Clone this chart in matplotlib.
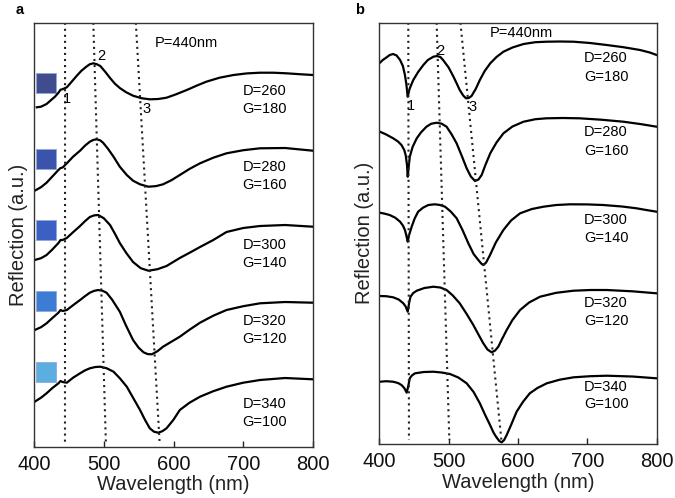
import matplotlib
matplotlib.use("Agg")
import matplotlib.pyplot as plt
from matplotlib.patches import Rectangle

plt.rcParams['font.family'] = ['Liberation Sans', 'DejaVu Sans']

# panel a: wavelength (nm) and offset reflection (a.u.)
a_wl = [
    [404, 410, 418, 425, 430, 435, 438, 441, 447, 454, 461, 468, 475, 480, 485, 490, 495, 502, 509, 516, 523, 532, 542, 554, 566, 578, 590, 604, 619, 633, 647, 666, 686, 705, 724, 743, 762, 781, 800],
    [401, 410, 418, 426, 435, 438, 441, 447, 456, 466, 473, 480, 485, 490, 495, 499, 506, 514, 523, 533, 542, 552, 564, 575, 585, 597, 609, 623, 638, 657, 676, 700, 724, 760, 800],
    [401, 410, 418, 426, 435, 438, 441, 447, 456, 466, 473, 480, 486, 492, 500, 509, 516, 523, 532, 542, 553, 564, 577, 590, 609, 625, 638, 657, 676, 700, 724, 760, 800],
    [401, 410, 418, 426, 435, 438, 441, 447, 456, 466, 473, 480, 486, 492, 498, 504, 512, 523, 532, 542, 550, 557, 563, 569, 577, 585, 597, 609, 623, 638, 657, 676, 700, 724, 760, 800],
    [401, 410, 418, 426, 435, 438, 441, 447, 456, 466, 473, 480, 488, 495, 504, 514, 523, 533, 542, 552, 559, 566, 572, 578, 584, 590, 600, 609, 623, 638, 657, 676, 700, 724, 760, 800],
]
a_refl = [
    [339.4, 340, 342.7, 347, 350, 354, 357, 357.5, 359.4, 365, 370.7, 376, 380, 382.5, 383.4, 382.5, 380.7, 375, 368.7, 363, 358.7, 354.5, 351, 348.5, 347.4, 347.7, 349, 352.5, 356.7, 361, 365, 369, 371.7, 373.3, 374, 374, 373.4, 372.5, 371.7],
    [256, 259.5, 264, 270, 276.7, 278.7, 279.2, 283.4, 290, 296, 301, 305, 306.8, 307.4, 306.3, 304, 298, 290, 280, 271.7, 266, 262.4, 260, 260.6, 262.4, 266.5, 271.7, 277.8, 283.4, 289, 293.4, 296.5, 298.4, 298.7, 296],
    [186.7, 188.5, 191.7, 197, 203.7, 206.7, 206.7, 208.7, 214.5, 220.7, 225.5, 229.7, 231.3, 231.7, 228.5, 221.7, 213, 203.7, 194, 184.7, 178.5, 176, 177.5, 180.7, 188.7, 194.7, 199.7, 206.7, 214.7, 218.7, 220.7, 221.7, 220],
    [116.7, 119.5, 123.4, 128.5, 134, 136.7, 135.7, 136.7, 141.5, 146.7, 150.5, 154, 155.8, 156.7, 156, 154, 147, 135, 121, 106.7, 99, 94.4, 92.6, 92.4, 95.5, 100, 105, 110, 117, 124, 131, 136.7, 140.5, 143.4, 144.7, 144],
    [45, 49, 53.4, 58.5, 63.4, 65.7, 64.7, 64, 69, 73.4, 76.3, 78.4, 79.7, 80, 78.5, 75, 68.5, 60, 49, 36.7, 27, 18.4, 15, 14, 15.5, 18.4, 27, 36.7, 44, 50, 55.5, 60, 64, 66.7, 68.7, 67.4],
]

# panel b
b_wl = [
    [401, 405, 410.6, 415, 420, 425, 430, 434, 437, 439, 441, 442.5, 444, 449, 456, 463.5, 470, 478, 483, 488, 492, 500, 507, 512, 516, 521, 525, 529, 533, 539, 545, 552, 560, 569, 579, 592, 608, 625, 641, 660, 680, 704, 728, 752, 776, 790, 800],
    [401, 410, 420, 427, 432, 436, 438, 440, 441, 442.5, 444, 448, 454, 460, 468, 475, 483, 490, 497, 504, 511.5, 519, 526, 532, 538, 543, 547.6, 553, 560, 569, 579, 592, 608, 625, 641, 665, 689, 720, 752, 776, 800],
    [401, 408, 415, 423, 430, 434, 437, 439.5, 441, 443, 446.7, 451, 456, 463, 470.7, 480, 487, 494.8, 503, 511.6, 520, 528.4, 536, 542.8, 547, 550, 554, 559.7, 568, 578.9, 590, 603, 620, 636.6, 655, 675, 700, 723, 750, 771, 785, 800],
    [401, 410, 420, 428, 434.7, 438, 441, 443, 445, 449, 454, 465, 478, 488, 497, 506, 516, 526, 535.6, 543, 550, 556, 562, 567, 571.6, 577, 583.7, 592, 603, 616, 631.8, 655, 680, 704, 728, 765, 800],
    [401, 410, 420, 427, 432, 436, 439.5, 441.5, 444, 447, 451.5, 464, 478, 490, 502, 514, 526, 536, 545, 552, 559.7, 565, 569, 573, 576.5, 580, 583.7, 590, 598, 607, 617, 628, 641.5, 660, 680, 704, 728, 765, 800],
]
b_refl = [
    [381.3, 384, 386.7, 389, 390, 388.5, 384, 378, 369, 360, 347.3, 352, 355.7, 364, 372, 379, 384, 387.3, 388, 387, 384, 376.5, 367.3, 360, 354, 348.5, 345.7, 346, 348, 355, 364, 373, 380.7, 387, 392.3, 396.5, 400, 401.8, 402.3, 402.5, 402.3, 401, 399, 396.8, 394, 391.5, 389],
    [312.3, 309.5, 305.7, 302.5, 299, 294, 289, 279, 267.3, 278, 287.3, 297, 305.7, 311.5, 317.3, 320.3, 321.3, 320.3, 317.3, 310, 300.7, 288, 275.7, 267.5, 263, 264.5, 269, 279, 290.7, 301.5, 310.7, 317.5, 322.3, 324.8, 325.7, 326, 325.7, 324.3, 322.3, 320, 317.3],
    [231.3, 230.3, 229, 226.3, 222.3, 218.5, 214, 207, 202.3, 209, 217.3, 225.5, 232.3, 236.3, 239, 239.7, 239.1, 237.3, 232.5, 225.7, 214, 200.7, 190, 184, 180.5, 179, 181.5, 189, 201.5, 214, 223.5, 230.7, 235, 237.3, 239, 239.7, 239.6, 239, 237.5, 235.7, 234, 232.3],
    [148, 147.8, 146.7, 144.5, 140.7, 137.5, 132.3, 141, 147.3, 151, 153.3, 156, 157.3, 156.5, 154, 148.5, 140.7, 130, 119, 109.5, 100.7, 94.5, 91.7, 93.5, 97.3, 105, 114, 124, 134, 141.5, 147.3, 151.2, 153.3, 154, 154, 152.7, 150.7],
    [62.3, 62.8, 62.3, 61, 59, 56, 51.3, 57, 65.7, 68.5, 70.7, 72, 72.3, 71.5, 70, 66.5, 60.7, 52, 40.7, 30, 19, 11, 6.7, 3, 1.7, 4, 9, 19, 32.3, 42, 50.7, 56, 60.7, 64.3, 66.7, 67.8, 68.3, 67.5, 65.7],
]

D_vals = [260, 280, 300, 320, 340]
G_vals = [180, 160, 140, 120, 100]

# dotted guide lines: (wavelength at top, wavelength at bottom)
a_guides = [(444.5, 444.4), (485, 503), (546, 580)]
b_guides = [(441.8, 442.8), (482.7, 501), (517, 576)]

# label positions (wavelength, a.u.)
a_num_pos = [(447.3, 347.7), (496, 390.7), (562, 337.7)]
b_num_pos = [(445.3, 338), (487.5, 393.3), (534.7, 337)]
a_D_y = [356, 279.7, 201.7, 125.7, 42.7]
a_G_y = [337.7, 261.7, 183.7, 107.7, 24.7]
b_D_y = [385.7, 311.7, 224, 141.3, 57.3]
b_G_y = [367.3, 293.3, 205.7, 123, 39.7]

sq_colors = ['#414c8e', '#3b53aa', '#3b60c2', '#3c7dd3', '#5cade0']
sq_bottom = [353.7, 277.4, 206.7, 136, 65]

fig = plt.figure(figsize=(6.75, 4.98), dpi=100)
ax1 = fig.add_axes([0.0504, 0.103, 0.4133, 0.8514])
ax2 = fig.add_axes([0.5619, 0.1084, 0.411, 0.846])


def setup(ax, ytop):
    ax.set_xlim(400, 800)
    ax.set_ylim(0, ytop)
    ax.set_xticks([400, 500, 600, 700, 800])
    ax.tick_params(axis='x', direction='in', length=4, width=1, labelsize=14.5, pad=6, colors='#222222')
    ax.tick_params(axis='x', labelcolor='#111111')
    ax.set_yticks([])
    for s in ax.spines.values():
        s.set_color('#333333')
        s.set_linewidth(1.0)
    ax.set_xlabel('Wavelength (nm)', fontsize=14.5, labelpad=1, color='#222222')
    ax.set_ylabel('Reflection (a.u.)', fontsize=14.5, labelpad=4, color='#222222')


setup(ax1, 424)
setup(ax2, 421.3)

for wl, r in zip(a_wl, a_refl):
    ax1.plot(wl, r, color='black', lw=1.6, solid_joinstyle='round')
for wl, r in zip(b_wl, b_refl):
    ax2.plot(wl, r, color='black', lw=1.6, solid_joinstyle='round')

dots = (0, (1, 1.9))
for (t, b) in a_guides:
    ax1.plot([t, b], [424, 5], color='#222222', lw=1.5, linestyle=dots)
for (t, b) in b_guides:
    ax2.plot([t, b], [421.3, 4], color='#222222', lw=1.5, linestyle=dots)

for i, (x, y) in enumerate(a_num_pos):
    ax1.text(x, y, str(i + 1), fontsize=10.5, ha='center', va='center')
for i, (x, y) in enumerate(b_num_pos):
    ax2.text(x, y, str(i + 1), fontsize=10.5, ha='center', va='center')

ax1.text(573, 403.7, 'P=440nm', fontsize=10.5, ha='left', va='center')
ax2.text(559.7, 411, 'P=440nm', fontsize=10.5, ha='left', va='center')

for d, g, yd, yg in zip(D_vals, G_vals, a_D_y, a_G_y):
    ax1.text(731, yd, 'D=%d' % d, fontsize=10.5, ha='center', va='center')
    ax1.text(731, yg, 'G=%d' % g, fontsize=10.5, ha='center', va='center')
for d, g, yd, yg in zip(D_vals, G_vals, b_D_y, b_G_y):
    ax2.text(727, yd, 'D=%d' % d, fontsize=10.5, ha='center', va='center')
    ax2.text(727, yg, 'G=%d' % g, fontsize=10.5, ha='center', va='center')

for c, y0 in zip(sq_colors, sq_bottom):
    ax1.add_patch(Rectangle((403.5, y0), 28.7, 20, facecolor=c, edgecolor='#8fa8e0', lw=0.6))

fig.text(20 / 675, 1 - 10 / 498, 'a', fontsize=10.5, fontweight='bold', ha='center', va='center')
fig.text(360 / 675, 1 - 10 / 498, 'b', fontsize=10.5, fontweight='bold', ha='center', va='center')

fig.savefig('out.png', dpi=100)
